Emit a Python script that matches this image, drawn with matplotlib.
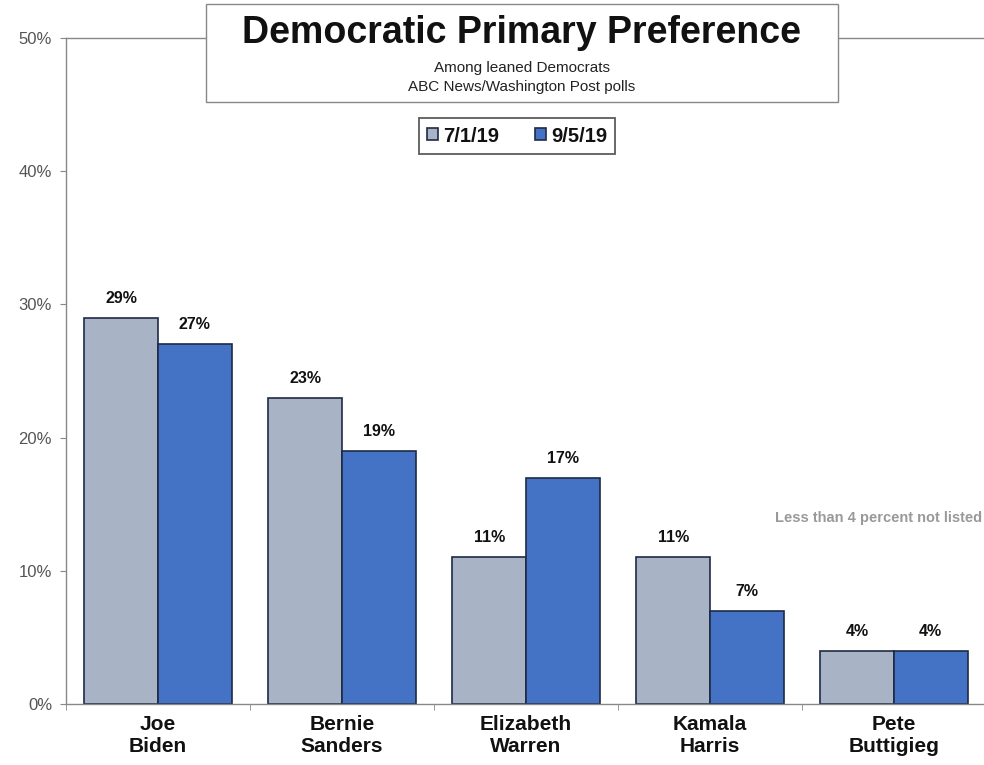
import matplotlib
matplotlib.use("Agg")
import matplotlib.pyplot as plt
import numpy as np
from matplotlib.patches import Rectangle

plt.rcParams['font.family'] = ['Liberation Sans', 'DejaVu Sans']

candidates = ["Joe\nBiden", "Bernie\nSanders", "Elizabeth\nWarren", "Kamala\nHarris", "Pete\nButtigieg"]
series_names = ["7/1/19", "9/5/19"]
jul_values = [29, 23, 11, 11, 4]
sep_values = [27, 19, 17, 7, 4]
ytick_vals = [0, 10, 20, 30, 40, 50]
ytick_labels = ["0%", "10%", "20%", "30%", "40%", "50%"]

light = "#A9B3C6"
dark = "#4472C4"
edge = "#1E2B45"

fig = plt.figure(figsize=(9.84, 7.65), dpi=100)
ax = fig.add_axes([66/984, 1-704/765, 920/984, (704-38)/765])

x = np.arange(len(candidates))
w = 0.40
b1 = ax.bar(x - w/2, jul_values, w, color=light, edgecolor=edge, linewidth=1.2, label=series_names[0])
b2 = ax.bar(x + w/2, sep_values, w, color=dark, edgecolor=edge, linewidth=1.2, label=series_names[1])

for bars, vals in ((b1, jul_values), (b2, sep_values)):
    for r, v in zip(bars, vals):
        ax.text(r.get_x() + r.get_width()/2, v + 0.9, f"{v}%", ha='center', va='bottom',
                fontsize=11.5, fontweight='bold', color='#111111')

ax.set_xlim(-0.5, len(candidates) - 0.5)
ax.set_ylim(0, 50)
ax.set_yticks(ytick_vals)
ax.set_yticklabels(ytick_labels, fontsize=12, color='#555555')
ax.set_xticks(x)
ax.set_xticklabels(candidates, fontsize=15, fontweight='bold', color='#111111', linespacing=1.22)
ax.tick_params(axis='x', length=0, pad=8)
ax.tick_params(axis='y', length=4, color='#888888', pad=6)
ax.set_xticks(np.arange(-0.5, len(candidates), 1.0), minor=True)
ax.tick_params(axis='x', which='minor', length=4, color='#888888', direction='out')

for s in ['left', 'bottom', 'top']:
    ax.spines[s].set_color('#888888')
    ax.spines[s].set_linewidth(1.0)
ax.spines['right'].set_visible(False)

# Title box
fig.patches.append(Rectangle((206/984, 1-102/765), (838-206)/984, (102-4)/765,
                             transform=fig.transFigure, facecolor='white', edgecolor='#888888',
                             linewidth=1.0, zorder=5))
fig.text(522/984, 1-33/765, "Democratic Primary Preference", ha='center', va='center',
         fontsize=27, fontweight='bold', color='#111111', zorder=6)
fig.text(522/984, 1-68/765, "Among leaned Democrats", ha='center', va='center',
         fontsize=11, color='#222222', zorder=6)
fig.text(522/984, 1-87/765, "ABC News/Washington Post polls", ha='center', va='center',
         fontsize=11, color='#222222', zorder=6)

leg = ax.legend(loc='center', bbox_to_anchor=(517/984, 1-136/765), bbox_transform=fig.transFigure,
                ncol=2, frameon=True, fancybox=False, edgecolor='#333333',
                handlelength=0.55, handleheight=0.55, handletextpad=0.25, columnspacing=1.8,
                borderpad=0.4, borderaxespad=0, prop={'weight': 'bold', 'size': 14.5})
leg.get_frame().set_linewidth(1.3)
for t in leg.get_texts():
    t.set_color('#111111')

fig.text(982/984, 1-518/765, "Less than 4 percent not listed", ha='right', va='center',
         fontsize=10.5, fontweight='bold', color='#999999')

fig.savefig("out.png", dpi=100)
